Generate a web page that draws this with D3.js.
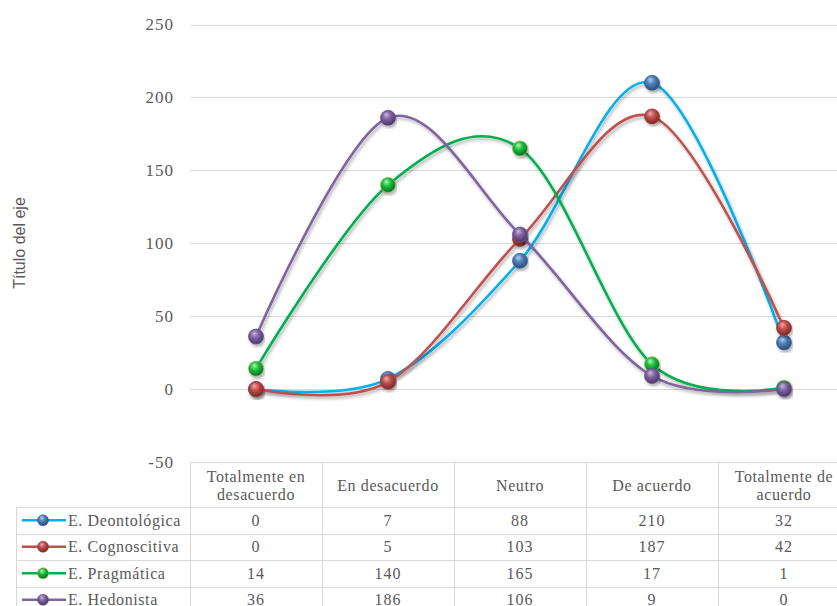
<!DOCTYPE html>
<html>
<head>
<meta charset="utf-8">
<script src="https://cdn.jsdelivr.net/npm/d3@7"></script>
<style>
  body { margin: 0; background: #fff; }
  svg { display: block; }
</style>
</head>
<body>
<svg id="chart" width="837" height="606"></svg>
<script>
// Data
const categories = ['Totalmente en desacuerdo', 'En desacuerdo', 'Neutro', 'De acuerdo', 'Totalmente de acuerdo'];
const headerLines = [['Totalmente en', 'desacuerdo'], ['En desacuerdo'], ['Neutro'], ['De acuerdo'], ['Totalmente de', 'acuerdo']];
const seriesNames = ['E. Deontológica', 'E. Cognoscitiva', 'E. Pragmática', 'E. Hedonista'];
const deontologica = [0, 7, 88, 210, 32];
const cognoscitiva = [0, 5, 103, 187, 42];
const pragmatica = [14, 140, 165, 17, 1];
const hedonista = [36, 186, 106, 9, 0];
const yTicks = [-50, 0, 50, 100, 150, 200, 250];

const seriesValues = [deontologica, cognoscitiva, pragmatica, hedonista];
const lineColors = ['#00b0f0', '#c0504d', '#00b050', '#8064a2'];
const markerColors = [
  { light: '#b9cfea', base: '#4f81bd', dark: '#2a4a73', stroke: '#3a6aa3' },
  { light: '#eab0ae', base: '#c0504d', dark: '#7a2624', stroke: '#a03c3a' },
  { light: '#b8f5b0', base: '#18c040', dark: '#0a6a20', stroke: '#9bbb59' },
  { light: '#c9b8de', base: '#8064a2', dark: '#4a3565', stroke: '#6b5290' }
];

const svg = d3.select('#chart');
const serif = '"Liberation Serif", "DejaVu Serif", serif';
const textColor = '#595959';
const gridColor = '#d9d9d9';

const x = d3.scaleBand().domain(categories).range([190, 850]).padding(0);
const xc = c => x(c) + x.bandwidth() / 2;
const y = d3.scaleLinear().domain([-50, 250]).range([462, 24.5]);

// defs: shadow + sphere gradients
const defs = svg.append('defs');
const shadow = defs.append('filter').attr('id', 'shadow')
  .attr('x', '-10%').attr('y', '-10%').attr('width', '120%').attr('height', '130%');
shadow.append('feDropShadow')
  .attr('dx', 1.5).attr('dy', 2.5).attr('stdDeviation', 1.6)
  .attr('flood-color', '#000').attr('flood-opacity', 0.3);

markerColors.forEach((m, i) => {
  const g = defs.append('radialGradient').attr('id', 'ball' + i)
    .attr('cx', '45%').attr('cy', '40%').attr('r', '60%').attr('fx', '38%').attr('fy', '28%');
  g.append('stop').attr('offset', '0%').attr('stop-color', m.light);
  g.append('stop').attr('offset', '45%').attr('stop-color', m.base);
  g.append('stop').attr('offset', '100%').attr('stop-color', m.dark);
});

// Gridlines and y tick labels
svg.append('g').selectAll('line')
  .data(yTicks.filter(t => t > -50))
  .join('line')
  .attr('x1', 190).attr('x2', 837)
  .attr('y1', d => Math.round(y(d)) + 0.5).attr('y2', d => Math.round(y(d)) + 0.5)
  .attr('stroke', gridColor).attr('stroke-width', 1);

svg.append('g').selectAll('text')
  .data(yTicks)
  .join('text')
  .attr('x', 174).attr('y', d => y(d))
  .attr('dy', '0.35em')
  .attr('text-anchor', 'end')
  .attr('font-family', serif).attr('font-size', 17)
  .attr('letter-spacing', 1)
  .attr('fill', textColor)
  .text(d => d);

// Axis title
svg.append('text')
  .attr('transform', 'translate(25,243) rotate(-90)')
  .attr('text-anchor', 'middle')
  .attr('font-family', '"Liberation Sans", Arial, sans-serif')
  .attr('font-size', 16)
  .attr('fill', textColor)
  .text('Título del eje');

// Lines and markers
const line = d3.line()
  .x((d, i) => xc(categories[i]))
  .y(d => y(d))
  .curve(d3.curveCatmullRom.alpha(0));

seriesValues.forEach((vals, s) => {
  const g = svg.append('g');
  g.append('path')
    .datum(vals)
    .attr('d', line)
    .attr('fill', 'none')
    .attr('stroke', lineColors[s])
    .attr('stroke-width', 2.6)
    .attr('filter', 'url(#shadow)');
  g.selectAll('circle')
    .data(vals)
    .join('circle')
    .attr('cx', (d, i) => xc(categories[i]))
    .attr('cy', d => y(d))
    .attr('r', 7.5)
    .attr('fill', 'url(#ball' + s + ')')
    .attr('stroke', markerColors[s].stroke)
    .attr('stroke-width', 0.8)
    .attr('filter', 'url(#shadow)');
});

// Data table
const tableTop = 462, headerBottom = 507, rowH = 26.5, legendLeft = 16;
const rowTop = i => headerBottom + i * rowH;
const table = svg.append('g');

// horizontal borders
table.append('line')
  .attr('x1', 190).attr('x2', 837).attr('y1', tableTop + 0.5).attr('y2', tableTop + 0.5)
  .attr('stroke', gridColor);
table.selectAll('line.h')
  .data(d3.range(seriesNames.length + 1))
  .join('line').attr('class', 'h')
  .attr('x1', legendLeft).attr('x2', 837)
  .attr('y1', i => Math.round(rowTop(i)) + 0.5).attr('y2', i => Math.round(rowTop(i)) + 0.5)
  .attr('stroke', gridColor);
// vertical borders
table.selectAll('line.v')
  .data(categories)
  .join('line').attr('class', 'v')
  .attr('x1', d => x(d) + 0.5).attr('x2', d => x(d) + 0.5)
  .attr('y1', tableTop).attr('y2', 606)
  .attr('stroke', gridColor);
table.append('line')
  .attr('x1', legendLeft + 0.5).attr('x2', legendLeft + 0.5)
  .attr('y1', headerBottom).attr('y2', 606)
  .attr('stroke', gridColor);

// header text
categories.forEach((c, i) => {
  const lines = headerLines[i];
  const mid = (tableTop + headerBottom) / 2 + 1;
  const t = table.append('text')
    .attr('text-anchor', 'middle')
    .attr('font-family', serif).attr('font-size', 16)
    .attr('letter-spacing', 0.6)
    .attr('fill', textColor);
  lines.forEach((ln, k) => {
    t.append('tspan')
      .attr('x', xc(c))
      .attr('y', mid + (k - (lines.length - 1) / 2) * 18)
      .attr('dy', '0.35em')
      .text(ln);
  });
});

// rows
seriesNames.forEach((name, s) => {
  const cy = rowTop(s) + rowH / 2;
  table.append('line')
    .attr('x1', 22).attr('x2', 66).attr('y1', cy).attr('y2', cy)
    .attr('stroke', lineColors[s]).attr('stroke-width', 2.6);
  table.append('circle')
    .attr('cx', 43).attr('cy', cy).attr('r', 5.5)
    .attr('fill', 'url(#ball' + s + ')')
    .attr('stroke', markerColors[s].stroke).attr('stroke-width', 0.6);
  table.append('text')
    .attr('x', 68).attr('y', cy).attr('dy', '0.35em')
    .attr('font-family', serif).attr('font-size', 16)
    .attr('letter-spacing', 0.6)
    .attr('fill', textColor)
    .text(name);
  table.selectAll(null)
    .data(seriesValues[s])
    .join('text')
    .attr('x', (d, i) => xc(categories[i]))
    .attr('y', cy).attr('dy', '0.35em')
    .attr('text-anchor', 'middle')
    .attr('font-family', serif).attr('font-size', 16)
    .attr('letter-spacing', 1)
    .attr('fill', textColor)
    .text(d => d);
});
</script>
</body>
</html>
